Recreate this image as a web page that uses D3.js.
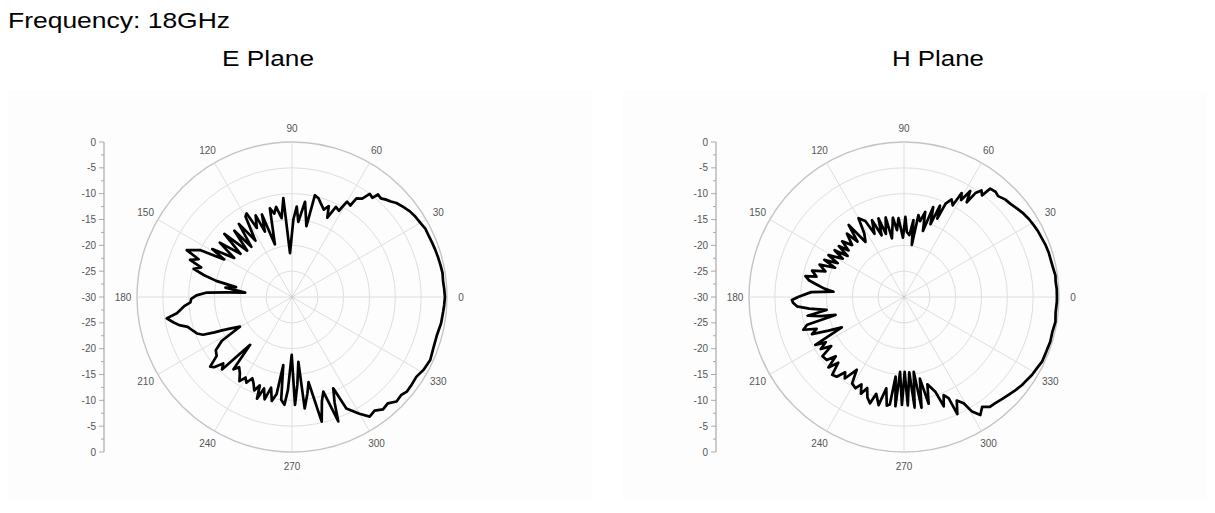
<!DOCTYPE html>
<html>
<head>
<meta charset="utf-8">
<script src="https://cdn.jsdelivr.net/npm/d3@7"></script>
<style>
  html, body { margin: 0; padding: 0; background: #fff; }
  svg { display: block; }
</style>
</head>
<body>
<svg id="chart" width="1215" height="513"></svg>
<script>
// ---------- data ----------
const pageTitle = "Frequency: 18GHz";
const planeTitles = ["E Plane", "H Plane"];
const angleTicks = [0, 30, 60, 90, 120, 150, 180, 210, 240, 270, 300, 330];
const ringLevels = [-30, -25, -20, -15, -10, -5, 0];
const axisTickLabels = ["0", "-5", "-10", "-15", "-20", "-25", "-30", "-25", "-20", "-15", "-10", "-5", "0"];

const eAngles = [0,3,6,9,12,15,18,21,24,27,30,33,36,39,42,44,46,48,50,51,53,54.5,56.8,57.5,60,61.5,64,66,68,70,73,75,77.3,78.5,82.2,85.2,87,89,92.6,95,97.5,100,102,104,108,110,112.5,114,117,118.5,120,123,126,129,131,134,137,140,143,146,149,151,153,156,158,160,162,164,166,168,170,172,174.7,176,177,179,181,183,185,188,189.7,192,194,196,199,201,203,204.5,205.5,207,209.7,212,215,218,220.4,222,224,226,228.8,231,233,235.7,238,240,242,244,246,248,250,251,253,255,257,259,261,262.7,264,266,267.5,269.7,271.6,273.5,275.6,276.5,279,281,283.4,286,288.3,290.4,292,294.3,296,300,303,306,309,312,315,318,320.5,324,327.4,331,335.5,340,345,350,354.5,357];
const eGain   = [-0.4,-0.5,-0.6,-0.5,-0.6,-0.7,-0.8,-0.9,-1.0,-1.0,-1.3,-1.5,-1.8,-2.3,-2.8,-3.4,-3.8,-4.3,-4.1,-5.3,-5.0,-6.6,-7.2,-9.0,-8.7,-11.0,-10.6,-13.2,-11.0,-12.0,-11.0,-10.2,-9.8,-16.0,-11.4,-15.4,-12.5,-15.0,-21.5,-10.8,-14.6,-12.3,-13.5,-12.3,-19.3,-13.0,-16.3,-12.7,-15.0,-11.6,-12.0,-17.0,-12.5,-17.5,-13.0,-17.5,-12.1,-17.0,-12.5,-16.5,-12.0,-15.0,-10.0,-7.7,-10.5,-9.0,-11.5,-10.2,-12.4,-15.0,-19.0,-17.0,-20.9,-17.3,-13.5,-11.5,-10.5,-10.3,-9.0,-7.5,-5.4,-6.5,-7.5,-9.0,-9.8,-10.3,-11.3,-13.5,-15.0,-16.5,-18.4,-14.0,-12.0,-11.5,-9.2,-9.7,-11.5,-10.5,-17.7,-12.0,-13.0,-12.1,-10.8,-12.0,-11.2,-12.5,-11.7,-10.5,-11.8,-9.2,-11.5,-9.5,-12.0,-9.5,-11.0,-16.7,-10.0,-9.1,-12.0,-18.8,-9.1,-13.0,-17.4,-8.3,-11.0,-13.2,-5.2,-9.0,-10.7,-4.3,-8.0,-10.6,-6.0,-3.9,-2.4,-2.8,-2.0,-2.3,-1.4,-1.6,-1.2,-1.3,-1.4,-0.9,-0.6,-0.9,-1.0,-0.7,-0.6,-0.5];

const hAngles = [0,3,6,8,11,14,17,20,23,26,29,32,35,38,41,44,47,49,51.5,52.5,54,55.5,56.5,58,59.5,61,62,64,66,67,68.5,70,72,74,76,78,80,81.5,83,85,87.5,89,91,94,96,98,101.6,103,106,108,110,112.6,115,117,120,122,125,127.5,130,132,135,138,140,142,144,146,148,151,153,155,157,159,162,164,166.9,168,170,172,174,175.7,177,180,181.5,183,185,187,189.5,191,193,194.7,196,198,200,202,204,206,208.4,210,212,214,216,219.2,221,223,225,227.3,229.8,232,234,237,239,242,244,246,248,250,252.3,254,256.8,259,261,262.5,264,265.5,267,268.9,270.5,272,274,275.5,277.4,279,281,283,285,288.3,290,292,293.8,294.5,297,299.3,300.7,302.9,305.4,308,310.7,314,316.9,320,323.3,326,328.6,332,334.9,339,343,347,350.7,354,358.3];
const hGain   = [-0.4,-0.4,-0.5,-0.4,-0.6,-0.7,-0.7,-0.8,-1.0,-1.1,-1.3,-1.5,-1.8,-2.2,-2.6,-2.8,-3.3,-3.0,-3.2,-5.2,-4.5,-5.6,-8.0,-5.8,-8.2,-7.0,-9.9,-9.0,-10.2,-13.5,-11.0,-15.0,-11.7,-16.7,-13.0,-15.0,-13.9,-19.8,-15.0,-18.0,-17.4,-14.5,-18.5,-14.7,-17.0,-14.5,-18.4,-14.2,-17.3,-14.0,-17.3,-13.9,-16.5,-13.5,-12.4,-15.5,-17.0,-12.4,-16.0,-13.5,-15.8,-13.9,-16.0,-14.0,-16.5,-13.8,-16.0,-13.3,-15.6,-13.0,-15.5,-12.5,-14.0,-11.5,-12.6,-10.5,-11.3,-13.0,-14.5,-16.3,-12.0,-9.5,-8.3,-8.5,-9.2,-11.5,-14.8,-11.0,-13.5,-16.3,-10.5,-9.5,-12.0,-10.8,-14.0,-16.6,-10.5,-12.5,-11.0,-13.0,-10.5,-10.7,-12.5,-10.0,-12.0,-9.5,-9.8,-11.5,-10.5,-13.2,-10.5,-10.0,-11.2,-9.5,-11.0,-9.3,-8.4,-10.5,-8.5,-12.0,-8.7,-9.0,-14.5,-8.8,-15.5,-9.1,-15.5,-9.0,-15.4,-8.5,-15.4,-8.3,-13.9,-8.8,-12.5,-10.7,-7.5,-9.5,-8.6,-5.1,-7.5,-6.4,-4.2,-2.8,-3.9,-3.0,-2.9,-2.6,-2.3,-1.9,-1.5,-1.3,-1.0,-0.8,-0.5,-0.5,-0.4,-0.5,-0.3,-0.5,-0.4];

// ---------- layout ----------
const svg = d3.select("#chart");
const R = 155;
const panels = [
  { title: planeTitles[0], cx: 292, cy: 297, axisX: 104, titleX: 268, angles: eAngles, gain: eGain, px: 8, pw: 584 },
  { title: planeTitles[1], cx: 904, cy: 297, axisX: 716, titleX: 938, angles: hAngles, gain: hGain, px: 623, pw: 584 }
];

svg.append("text")
  .attr("x", 8).attr("y", 28)
  .attr("font-family", "Liberation Sans, Arial, sans-serif")
  .attr("font-size", 22)
  .attr("textLength", 222).attr("lengthAdjust", "spacingAndGlyphs")
  .attr("fill", "#000")
  .text(pageTitle);

const rScale = d3.scaleLinear().domain([-30, 0]).range([0, R]);
const yAxisScale = d3.scaleLinear().domain([0, 12]).range([0, 2 * R]);

panels.forEach(p => {
  // faint panel background
  svg.append("rect").attr("x", p.px).attr("y", 90).attr("width", p.pw).attr("height", 410)
    .attr("fill", "#fdfdfd");

  svg.append("text")
    .attr("x", p.titleX).attr("y", 66)
    .attr("text-anchor", "middle")
    .attr("font-family", "Liberation Sans, Arial, sans-serif")
    .attr("font-size", 22)
    .attr("textLength", 92).attr("lengthAdjust", "spacingAndGlyphs")
    .attr("fill", "#000")
    .text(p.title);

  const g = svg.append("g").attr("transform", `translate(${p.cx},${p.cy})`);

  // rings
  g.selectAll("circle.ring").data(ringLevels.slice(1)).join("circle")
    .attr("class", "ring")
    .attr("r", d => rScale(d))
    .attr("fill", "none")
    .attr("stroke", d => d === 0 ? "#c4c4c4" : "#dedede")
    .attr("stroke-width", d => d === 0 ? 1.4 : 1);

  // spokes
  g.selectAll("line.spoke").data(angleTicks).join("line")
    .attr("class", "spoke")
    .attr("x1", 0).attr("y1", 0)
    .attr("x2", d => R * Math.cos(d * Math.PI / 180))
    .attr("y2", d => -R * Math.sin(d * Math.PI / 180))
    .attr("stroke", "#dedede").attr("stroke-width", 1);

  g.append("circle").attr("r", 1.5).attr("fill", "#ccc");

  // angle labels
  g.selectAll("text.ang").data(angleTicks).join("text")
    .attr("class", "ang")
    .attr("x", d => (R + 14) * Math.cos(d * Math.PI / 180))
    .attr("y", d => -(R + 14) * Math.sin(d * Math.PI / 180))
    .attr("text-anchor", "middle")
    .attr("dominant-baseline", "central")
    .attr("font-family", "Liberation Sans, Arial, sans-serif")
    .attr("font-size", 10)
    .attr("fill", "#555")
    .text(d => d);

  // pattern curve
  const pts = p.angles.map((a, i) => [a, p.gain[i]]);
  const line = d3.lineRadial()
    .angle(d => Math.PI / 2 - d[0] * Math.PI / 180)
    .radius(d => rScale(d[1]))
    .curve(d3.curveLinearClosed);
  g.append("path")
    .attr("d", line(pts))
    .attr("fill", "none")
    .attr("stroke", "#000")
    .attr("stroke-width", 2.7)
    .attr("stroke-linejoin", "round");

  // left dB axis
  const ax = svg.append("g").attr("transform", `translate(${p.axisX},${p.cy - R})`);
  ax.append("line").attr("x1", 0).attr("x2", 0).attr("y1", 0).attr("y2", 2 * R)
    .attr("stroke", "#999").attr("stroke-width", 1);
  const minor = d3.range(0, 12.01, 0.5);
  ax.selectAll("line.tk").data(minor).join("line")
    .attr("class", "tk")
    .attr("x1", d => (d % 1 === 0) ? -5 : -3).attr("x2", 0)
    .attr("y1", d => yAxisScale(d)).attr("y2", d => yAxisScale(d))
    .attr("stroke", "#aaa").attr("stroke-width", 1);
  ax.selectAll("text.tl").data(axisTickLabels).join("text")
    .attr("class", "tl")
    .attr("x", -8)
    .attr("y", (d, i) => yAxisScale(i))
    .attr("text-anchor", "end")
    .attr("dominant-baseline", "central")
    .attr("font-family", "Liberation Sans, Arial, sans-serif")
    .attr("font-size", 10)
    .attr("fill", "#555")
    .text(d => d);
});
</script>
</body>
</html>
